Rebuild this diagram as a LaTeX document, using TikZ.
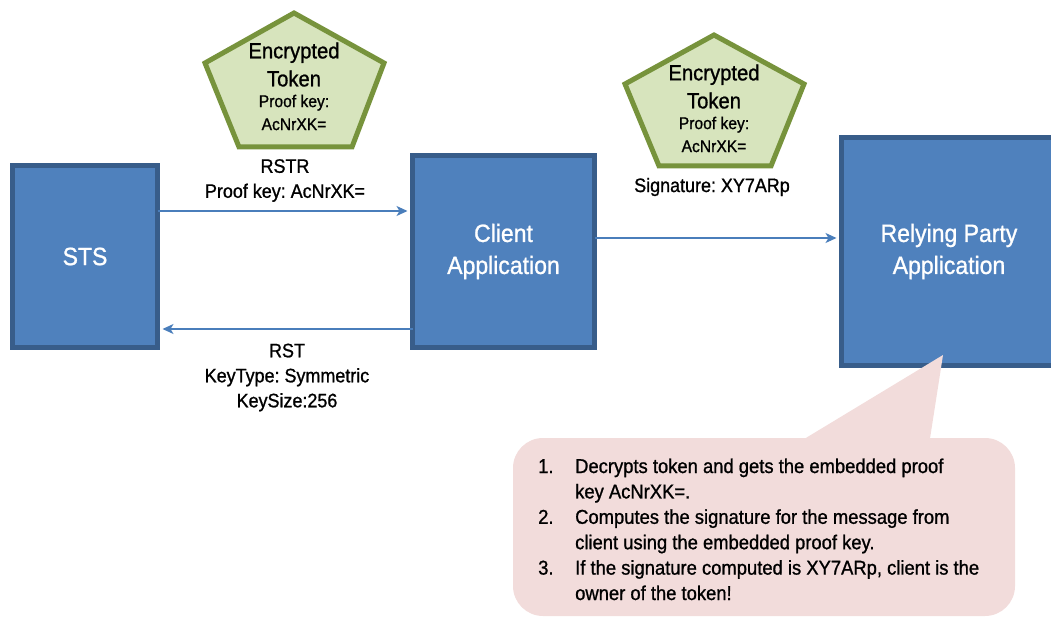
\documentclass[tikz,border=0pt]{standalone}
\usepackage{fontspec}
\setmainfont[FakeStretch=0.92,FakeBold=1.0]{Liberation Sans}
\usetikzlibrary{arrows.meta,calc}
\frenchspacing

\definecolor{boxfill}{HTML}{4F81BD}
\definecolor{boxline}{HTML}{385D8A}
\definecolor{flowline}{HTML}{4A7EBB}
\definecolor{tokfill}{HTML}{D7E4BD}
\definecolor{tokline}{HTML}{77933C}
\definecolor{notefill}{HTML}{F2DCDB}

\begin{document}
\begin{tikzpicture}[x=1pt,y=-1pt,
  block/.style={draw=boxline,fill=boxfill,line width=5pt,text=white,
    align=center,inner sep=0pt,font=\fontsize{25}{32}\selectfont},
  flow/.style={draw=flowline,line width=1.3pt,
    -{Stealth[length=11pt,width=10pt,inset=3pt]}},
  token/.style={draw=tokline,fill=tokfill,line width=5pt,line join=miter},
  toktitle/.style={align=center,inner sep=0pt,font=\fontsize{22}{28}\selectfont},
  tokkey/.style={align=center,inner sep=0pt,font=\fontsize{17}{23}\selectfont},
  lbl/.style={align=center,inner sep=0pt,font=\fontsize{19.5}{25}\selectfont},
  ]
\useasboundingbox (0,0) rectangle (1051,617);

% parties
\node[block,minimum width=145pt,minimum height=182pt] (sts) at (85,256.5) {STS};
\node[block,minimum width=182pt,minimum height=192pt] (client) at (503.5,251.5) {Client\\Application};
\node[block,minimum width=215pt,minimum height=228pt] (rp) at (949,251.5) {Relying Party\\Application};

% message rows
\coordinate (rowA) at (0,211);
\coordinate (rowB) at (0,329);
\coordinate (rowC) at (0,238);

\draw[flow,shorten >=2.5pt,shorten <=-2.5pt] (sts.east |- rowA) -- (client.west |- rowA);
\draw[flow,shorten >=2.5pt,shorten <=-2.5pt] (client.west |- rowB) -- (sts.east |- rowB);
\draw[flow,shorten >=2.5pt,shorten <=-2.5pt] (client.east |- rowC) -- (rp.west |- rowC);

% encrypted tokens
\coordinate (t1a) at (294,13);
\coordinate (t1b) at (384,63);
\coordinate (t1c) at (352,147);
\coordinate (t1d) at (239,147);
\coordinate (t1e) at (205,63);
\draw[token] (t1a) -- (t1b) -- (t1c) -- (t1d) -- (t1e) -- cycle;
\node[toktitle] (tok1title) at (294,64.5) {Encrypted\\Token};
\node[tokkey] (tok1key) at (294,112.5) {Proof key:\\AcNrXK=};

\coordinate (t2a) at (714,35);
\coordinate (t2b) at (804,84);
\coordinate (t2c) at (771,166);
\coordinate (t2d) at (659,166);
\coordinate (t2e) at (625,84);
\draw[token] (t2a) -- (t2b) -- (t2c) -- (t2d) -- (t2e) -- cycle;
\node[toktitle] (tok2title) at (714,86.5) {Encrypted\\Token};
\node[tokkey] (tok2key) at (714,134.5) {Proof key:\\AcNrXK=};

% message labels
\node[lbl] (rstr) at (285,180.5) {RSTR\\Proof key: AcNrXK=};
\node[lbl] (rst) at (287,377.5) {RST\\KeyType: Symmetric\\KeySize:256};
\node[lbl] (sig) at (712,187) {Signature: XY7ARp};

% note on the relying party
\fill[notefill,rounded corners=30pt] (513,438) rectangle (1015,616);
\fill[notefill] (805,438.5) -- (943,355) -- (930,438.5) -- cycle;
\node[anchor=base west,inner sep=0pt,font=\fontsize{20}{25.4}\selectfont] (note) at (538,473)
{\begin{tabular}[t]{@{}p{37pt}@{}l@{}}
1. & Decrypts token and gets the embedded proof\\
   & key AcNrXK=.\\
2. & Computes the signature for the message from\\
   & client using the embedded proof key.\\
3. & If the signature computed is XY7ARp, client is the\\
   & owner of the token!
\end{tabular}};
\end{tikzpicture}
\end{document}
